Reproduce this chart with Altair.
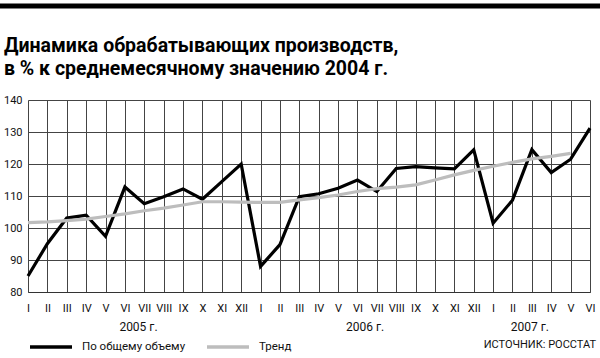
import altair as alt
import pandas as pd

months = list(range(30))
roman = ["I", "II", "III", "IV", "V", "VI", "VII", "VIII", "IX", "X", "XI", "XII"]
total = [85.0, 95.1, 103.1, 104.0, 97.4, 112.8, 107.6, 109.8, 112.2, 109.0, 114.5, 120.0,
         88.0, 94.8, 109.8, 110.7, 112.4, 115.0, 111.4, 118.6, 119.2, 118.8, 118.5, 124.4,
         101.5, 108.7, 124.5, 117.3, 121.5, 131.2]
trend = [101.7, 101.9, 102.3, 102.8, 103.6, 104.4, 105.4, 106.2, 107.2, 108.2, 108.2, 108.1,
         108.0, 108.0, 108.8, 109.5, 110.3, 111.4, 112.3, 112.8, 113.5, 115.0, 116.6, 118.0,
         119.3, 120.5, 121.6, 122.4, 123.3, None]
years = ["2005 г.", "2006 г.", "2007 г."]
year_pos = [5.7, 17.4, 25.9]
series_names = ["По общему объему", "Тренд"]
source = "ИСТОЧНИК: РОССТАТ"
title_lines = ["Динамика обрабатывающих производств,", "в % к среднемесячному значению 2004 г."]

FONT = "Roboto"
W, H = 562, 192

rows = []
for m, v in zip(months, total):
    rows.append({"m": m, "v": v, "s": series_names[0]})
for m, v in zip(months, trend):
    if v is not None:
        rows.append({"m": m, "v": v, "s": series_names[1]})
df = pd.DataFrame(rows)

roman_js = "[" + ",".join("'%s'" % r for r in roman) + "]"

x_scale = alt.Scale(domain=[0, 29], nice=False, zero=False)
x_axis = alt.Axis(values=months, labelExpr=roman_js + "[datum.value % 12]",
                  grid=True, gridColor="#444", gridWidth=1, ticks=False,
                  domain=True, domainColor="#333", labelFont=FONT, labelFontSize=11,
                  labelColor="#111", labelPadding=10, title=None,
                  labelFlush=False, labelOverlap=False, labelBound=False)
y_enc = alt.Y("v:Q", scale=alt.Scale(domain=[80, 140], nice=False, zero=False),
              axis=alt.Axis(values=[80, 90, 100, 110, 120, 130, 140], grid=True,
                            gridColor="#444", gridWidth=1, ticks=False, domain=False,
                            labelFont=FONT, labelFontSize=11, labelColor="#111",
                            labelPadding=6, title=None))

lines = alt.Chart(df).mark_line(strokeWidth=3.2, strokeJoin="miter").encode(
    x=alt.X("m:Q", scale=x_scale, axis=x_axis), y=y_enc,
    color=alt.Color("s:N", scale=alt.Scale(domain=series_names, range=["#000000", "#bdbdbd"]),
                    legend=alt.Legend(orient="none", legendX=0, legendY=224, direction="horizontal",
                                      title=None, symbolType="stroke", symbolSize=1764,
                                      symbolStrokeWidth=3.5, labelFont=FONT, labelFontSize=11.5,
                                      labelColor="#111", labelOffset=8, columnPadding=14)),
    order=alt.Order("s:N", sort="descending"),
    detail="s:N",
)

ydf = pd.DataFrame({"m": year_pos, "t": years})
year_text = alt.Chart(ydf).mark_text(font=FONT, fontSize=12, color="#111", baseline="middle").encode(
    x=alt.X("m:Q", scale=x_scale, axis=x_axis), y=alt.value(H + 35), text="t:N")

sdf = pd.DataFrame({"t": [source]})
src_text = alt.Chart(sdf).mark_text(font=FONT, fontSize=11, color="#111", align="right",
                                     baseline="middle").encode(
    x=alt.value(W + 6), y=alt.value(H + 53), text="t:N")

top_bar = alt.Chart(sdf).mark_rule(color="#000", strokeWidth=5).encode(
    x=alt.value(-28), x2=alt.value(W + 10), y=alt.value(-94))

t1 = alt.Chart(pd.DataFrame({"t": [title_lines[0]]})).mark_text(
    font=FONT, fontSize=19.5, fontWeight="bold", color="#000", align="left", baseline="alphabetic"
).encode(x=alt.value(-24), y=alt.value(-48), text="t:N")
t2 = alt.Chart(pd.DataFrame({"t": [title_lines[1]]})).mark_text(
    font=FONT, fontSize=19.5, fontWeight="bold", color="#000", align="left", baseline="alphabetic"
).encode(x=alt.value(-24), y=alt.value(-25), text="t:N")

chart = alt.layer(top_bar, t1, t2, lines, year_text, src_text).properties(
    width=W, height=H,
    autosize=alt.AutoSizeParams(type="none"),
    padding={"left": 28, "top": 100, "right": 10, "bottom": 66},
).configure_view(stroke=None).configure_axisX(labelOverlap=False).configure(background="white")

chart.save("out.html", embed_options={"renderer": "svg", "actions": False})
